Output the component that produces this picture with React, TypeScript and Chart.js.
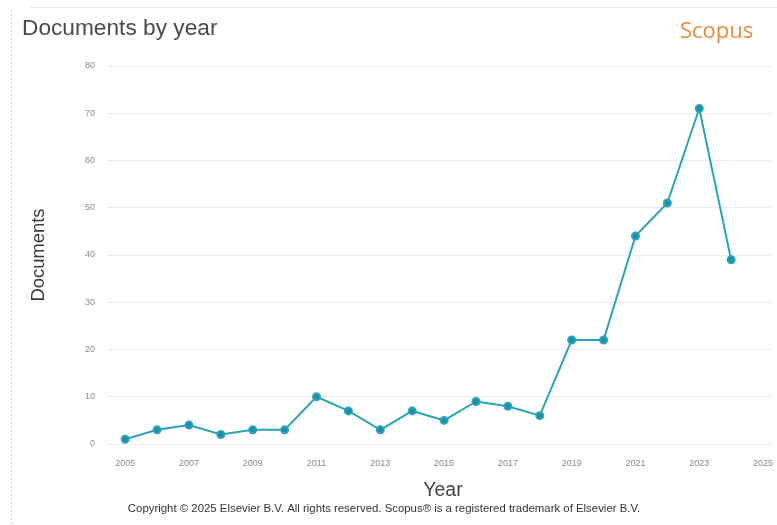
import React, { useEffect, useRef } from "react";
import { Chart, registerables } from "chart.js";

Chart.register(...registerables);

const years = [2005, 2006, 2007, 2008, 2009, 2010, 2011, 2012, 2013, 2014, 2015, 2016, 2017, 2018, 2019, 2020, 2021, 2022, 2023, 2024];
const documents = [1, 3, 4, 2, 3, 3, 10, 7, 3, 7, 5, 9, 8, 6, 22, 22, 44, 51, 71, 39];
const xTicks = [2005, 2007, 2009, 2011, 2013, 2015, 2017, 2019, 2021, 2023, 2025];
const yTicks = [0, 10, 20, 30, 40, 50, 60, 70, 80];

const titleText = "Documents by year";
const brandText = "Scopus";
const yTitle = "Documents";
const xTitle = "Year";
const footerText = "Copyright © 2025 Elsevier B.V. All rights reserved. Scopus® is a registered trademark of Elsevier B.V.";

const textPlugin = {
  id: "texts",
  afterDraw(chart: any) {
    const ctx = chart.ctx;
    ctx.save();
    ctx.strokeStyle = "#e6e6e6";
    ctx.lineWidth = 1;
    ctx.beginPath();
    ctx.moveTo(30, 7.5);
    ctx.lineTo(777, 7.5);
    ctx.stroke();
    ctx.strokeStyle = "#cfcfcf";
    ctx.setLineDash([2, 2]);
    ctx.beginPath();
    ctx.moveTo(11.5, 10);
    ctx.lineTo(11.5, 525);
    ctx.stroke();
    ctx.setLineDash([]);

    ctx.fillStyle = "#4a4a4a";
    ctx.font = "22.7px 'Liberation Sans', Arial, sans-serif";
    ctx.textAlign = "left";
    ctx.textBaseline = "alphabetic";
    ctx.fillText(titleText, 22, 35);

    ctx.fillStyle = "#e98b3f";
    ctx.font = "22px 'Open Sans', sans-serif";
    ctx.fillText(brandText, 680, 38);

    ctx.fillStyle = "#3a3a3a";
    ctx.font = "18.4px 'Liberation Sans', Arial, sans-serif";
    ctx.textAlign = "center";
    ctx.textBaseline = "middle";
    ctx.save();
    ctx.translate(39, 255);
    ctx.rotate(-Math.PI / 2);
    ctx.fillText(yTitle, 0, 0);
    ctx.restore();

    ctx.fillStyle = "#444";
    ctx.font = "19.5px 'Liberation Sans', Arial, sans-serif";
    ctx.textBaseline = "alphabetic";
    ctx.fillText(xTitle, 443, 496);

    ctx.fillStyle = "#333";
    ctx.font = "11.4px 'Liberation Sans', Arial, sans-serif";
    ctx.fillText(footerText, 384, 512);
    ctx.restore();
  },
};

export default function App() {
  const ref = useRef<HTMLCanvasElement | null>(null);
  useEffect(() => {
    if (!ref.current) return;
    const chart = new Chart(ref.current, {
      type: "line",
      data: {
        datasets: [
          {
            data: years.map((y, i) => ({ x: y, y: documents[i] })),
            borderColor: "#2ba3b9",
            backgroundColor: "#1f8ea3",
            pointBackgroundColor: "#1f8ea3",
            pointBorderColor: "#2ba3b9",
            pointRadius: 3.5,
            borderWidth: 2,
            tension: 0,
          },
        ],
      },
      options: {
        responsive: false,
        animation: false,
        layout: { padding: { top: 66, right: 5, left: 0, bottom: 0 } },
        plugins: { legend: { display: false }, tooltip: { enabled: false }, title: { display: false } },
        scales: {
          x: {
            type: "linear",
            min: 2004.43,
            max: 2025.25,
            grid: { display: false, drawTicks: false },
            border: { display: false },
            afterBuildTicks: (s: any) => {
              s.ticks = xTicks.map((v) => ({ value: v }));
            },
            afterFit: (s: any) => {
              s.height = 81;
              s.paddingRight = 0;
              s.paddingLeft = 0;
            },
            ticks: {
              color: "#8a8a8a",
              font: { size: 9, family: "'Liberation Sans', Arial, sans-serif" },
              maxRotation: 0,
              autoSkip: false,
              padding: 14,
              callback: (v: any) => String(v),
            },
          },
          y: {
            min: 0,
            max: 80,
            afterBuildTicks: (s: any) => {
              s.ticks = yTicks.map((v) => ({ value: v }));
            },
            afterFit: (s: any) => {
              s.width = 107;
              s.paddingTop = 0;
              s.paddingBottom = 0;
            },
            grid: { color: "#ececec", drawTicks: false },
            border: { display: false },
            ticks: {
              color: "#8a8a8a",
              font: { size: 9, family: "'Liberation Sans', Arial, sans-serif" },
              padding: 12,
            },
          },
        },
      },
      plugins: [textPlugin],
    } as any);
    return () => chart.destroy();
  }, []);
  return (
    <div style={{ position: "absolute", left: 0, top: 0, width: 777, height: 525, background: "#fff" }}>
      <canvas ref={ref} width={777} height={525} style={{ display: "block" }} />
    </div>
  );
}
